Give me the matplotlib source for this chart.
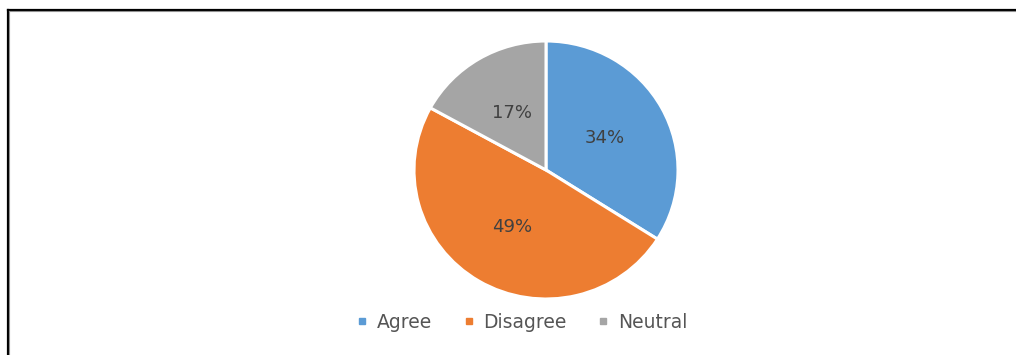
import matplotlib
matplotlib.use("Agg")
import matplotlib.pyplot as plt
from matplotlib.lines import Line2D

categories = ["Agree", "Disagree", "Neutral"]
shares = [34, 49, 17]
colors = ["#5B9BD5", "#ED7D31", "#A5A5A5"]

W, H = 1016, 355
fig = plt.figure(figsize=(W / 100, H / 100), dpi=100)
plt.rcParams["font.family"] = ["DejaVu Sans"]

# outer frame: only top and left edges fall inside the canvas
top = 1 - 9.5 / H
left = 7.5 / W
fig.add_artist(Line2D([left, 1.0], [top, top], transform=fig.transFigure,
                      color="black", linewidth=1.6))
fig.add_artist(Line2D([left, left], [0.0, top], transform=fig.transFigure,
                      color="black", linewidth=1.6))
fig.add_artist(Line2D([left + 1.6 / W, 1.0], [top - 1.6 / H, top - 1.6 / H],
                      transform=fig.transFigure, color="#909090", linewidth=0.8))
fig.add_artist(Line2D([left + 1.6 / W, left + 1.6 / W], [0.0, top - 1.6 / H],
                      transform=fig.transFigure, color="#909090", linewidth=0.8))

# pie area: 264 x 258 px box centred at (546, 170)
cx, cy, rx, ry = 546, 170, 132, 129
ax = fig.add_axes([(cx - rx) / W, (H - cy - ry) / H, 2 * rx / W, 2 * ry / H])
wedges, texts, autotexts = ax.pie(
    shares, colors=colors, startangle=90, counterclock=False,
    autopct="%d%%", pctdistance=0.51,
    wedgeprops=dict(edgecolor="white", linewidth=2.2),
    textprops=dict(color="#404040", fontsize=13))
ax.set_xlim(-1, 1)
ax.set_ylim(-1, 1)
ax.set_aspect("auto")
ax.axis("off")

handles = [Line2D([], [], marker="s", linestyle="none", markersize=5,
                  markerfacecolor=c, markeredgecolor=c) for c in colors]
fig.legend(handles, categories, loc="center", bbox_to_anchor=(521.5 / W, 1 - 322 / H),
           ncol=3, frameon=False, fontsize=13.5, handletextpad=0.43,
           columnspacing=1.6, labelcolor="#555555", handlelength=0.7)

fig.savefig("out.png", dpi=100)
